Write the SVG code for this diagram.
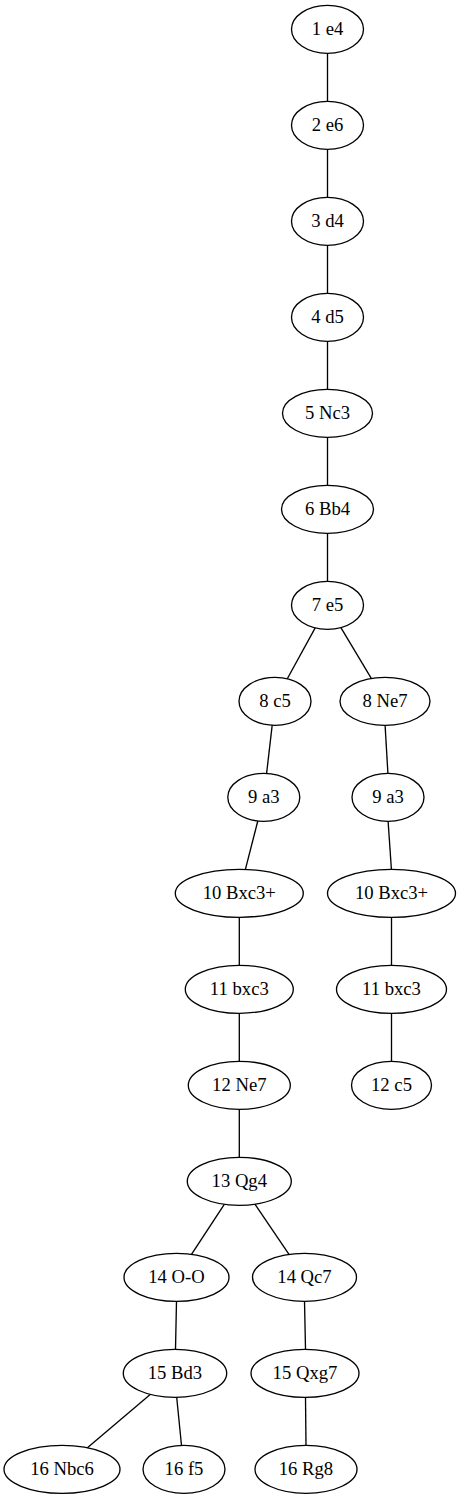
<svg xmlns="http://www.w3.org/2000/svg" width="461" height="1499" viewBox="0 0 461 1499">
<style>
.n ellipse{fill:none;stroke:#000;stroke-width:1.33}
.n text{font-family:"Liberation Serif","Times New Roman",serif;font-size:18.67px;text-anchor:middle;fill:#000}
#edges line{stroke:#000;stroke-width:1.33}
</style>
<rect width="461" height="1499" fill="#fff"/>
<g id="edges">
<line x1="327.5" y1="53.3" x2="327.5" y2="101.3"/>
<line x1="327.5" y1="149.3" x2="327.5" y2="197.3"/>
<line x1="327.5" y1="245.3" x2="327.5" y2="293.3"/>
<line x1="327.5" y1="341.3" x2="327.5" y2="389.3"/>
<line x1="327.5" y1="437.3" x2="327.5" y2="485.3"/>
<line x1="327.5" y1="533.3" x2="327.5" y2="581.3"/>
<line x1="315.2" y1="627.9" x2="287.3" y2="678.8"/>
<line x1="340.9" y1="627.6" x2="371.3" y2="678.4"/>
<line x1="272.2" y1="725.2" x2="266.6" y2="773.4"/>
<line x1="385.1" y1="725.3" x2="387.9" y2="773.3"/>
<line x1="257.8" y1="821.0" x2="245.4" y2="869.4"/>
<line x1="388.1" y1="821.3" x2="391.4" y2="869.3"/>
<line x1="239.3" y1="917.3" x2="239.3" y2="965.3"/>
<line x1="391.5" y1="917.3" x2="391.5" y2="965.3"/>
<line x1="239.3" y1="1013.3" x2="239.3" y2="1061.3"/>
<line x1="391.5" y1="1013.3" x2="391.5" y2="1061.3"/>
<line x1="239.3" y1="1109.3" x2="239.3" y2="1157.3"/>
<line x1="224.3" y1="1204.3" x2="191.5" y2="1254.3"/>
<line x1="254.9" y1="1204.2" x2="289" y2="1254.4"/>
<line x1="176.5" y1="1301.3" x2="175.5" y2="1349.3"/>
<line x1="304.5" y1="1301.3" x2="305.5" y2="1349.3"/>
<line x1="150.2" y1="1394.4" x2="87.4" y2="1447.7"/>
<line x1="176.7" y1="1397.2" x2="181.5" y2="1445.5"/>
<line x1="305.5" y1="1397.3" x2="306" y2="1445.3"/>
</g>
<g id="n1" class="n"><ellipse cx="327.5" cy="29.3" rx="36" ry="24"/><text x="327.5" y="34.9">1 e4</text></g>
<g id="n2" class="n"><ellipse cx="327.5" cy="125.3" rx="36" ry="24"/><text x="327.5" y="130.9">2 e6</text></g>
<g id="n3" class="n"><ellipse cx="327.5" cy="221.3" rx="36" ry="24"/><text x="327.5" y="226.9">3 d4</text></g>
<g id="n4" class="n"><ellipse cx="327.5" cy="317.3" rx="36" ry="24"/><text x="327.5" y="322.9">4 d5</text></g>
<g id="n5" class="n"><ellipse cx="327.5" cy="413.3" rx="45" ry="24"/><text x="327.5" y="418.9">5 Nc3</text></g>
<g id="n6" class="n"><ellipse cx="327.5" cy="509.3" rx="46" ry="24"/><text x="327.5" y="514.9">6 Bb4</text></g>
<g id="n7" class="n"><ellipse cx="327.5" cy="605.3" rx="36" ry="24"/><text x="327.5" y="610.9">7 e5</text></g>
<g id="n8a" class="n"><ellipse cx="275" cy="701.3" rx="36" ry="24"/><text x="275" y="706.9">8 c5</text></g>
<g id="n8b" class="n"><ellipse cx="385" cy="701.3" rx="45" ry="24"/><text x="385" y="706.9">8 Ne7</text></g>
<g id="n9a" class="n"><ellipse cx="263.8" cy="797.3" rx="36" ry="24"/><text x="263.8" y="802.9">9 a3</text></g>
<g id="n9b" class="n"><ellipse cx="388" cy="797.3" rx="36" ry="24"/><text x="388" y="802.9">9 a3</text></g>
<g id="n10a" class="n"><ellipse cx="239.3" cy="893.3" rx="64" ry="24"/><text x="239.3" y="898.9">10 Bxc3+</text></g>
<g id="n10b" class="n"><ellipse cx="391.5" cy="893.3" rx="64" ry="24"/><text x="391.5" y="898.9">10 Bxc3+</text></g>
<g id="n11a" class="n"><ellipse cx="239.3" cy="989.3" rx="54" ry="24"/><text x="239.3" y="994.9">11 bxc3</text></g>
<g id="n11b" class="n"><ellipse cx="391.5" cy="989.3" rx="55" ry="24"/><text x="391.5" y="994.9">11 bxc3</text></g>
<g id="n12a" class="n"><ellipse cx="239.3" cy="1085.3" rx="51" ry="24"/><text x="239.3" y="1090.9">12 Ne7</text></g>
<g id="n12b" class="n"><ellipse cx="391.5" cy="1085.3" rx="40" ry="24"/><text x="391.5" y="1090.9">12 c5</text></g>
<g id="n13" class="n"><ellipse cx="239.3" cy="1181.3" rx="52" ry="24"/><text x="239.3" y="1186.9">13 Qg4</text></g>
<g id="n14a" class="n"><ellipse cx="176.5" cy="1277.3" rx="52.5" ry="24"/><text x="176.5" y="1282.9">14 O-O</text></g>
<g id="n14b" class="n"><ellipse cx="304.5" cy="1277.3" rx="52" ry="24"/><text x="304.5" y="1282.9">14 Qc7</text></g>
<g id="n15a" class="n"><ellipse cx="175" cy="1373.3" rx="51.7" ry="24"/><text x="175" y="1378.9">15 Bd3</text></g>
<g id="n15b" class="n"><ellipse cx="305" cy="1373.3" rx="54" ry="24"/><text x="305" y="1378.9">15 Qxg7</text></g>
<g id="n16a" class="n"><ellipse cx="62" cy="1469.3" rx="58" ry="24"/><text x="62" y="1474.9">16 Nbc6</text></g>
<g id="n16b" class="n"><ellipse cx="184" cy="1469.3" rx="41" ry="24"/><text x="184" y="1474.9">16 f5</text></g>
<g id="n16c" class="n"><ellipse cx="306" cy="1469.3" rx="51" ry="24"/><text x="306" y="1474.9">16 Rg8</text></g>
</svg>
